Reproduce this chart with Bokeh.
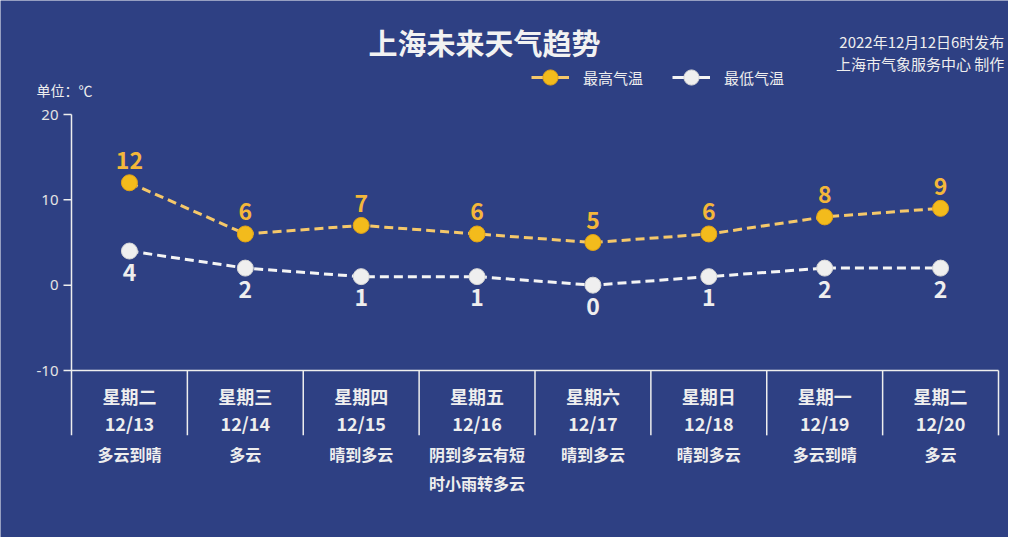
import math
from bokeh.plotting import figure
from bokeh.models import Range1d, Label, Legend, LegendItem, ColumnDataSource
from bokeh.core.properties import value
from bokeh.embed import file_html
from bokeh.resources import INLINE

weekdays = ["星期二", "星期三", "星期四", "星期五", "星期六", "星期日", "星期一", "星期二"]
dates = ["12/13", "12/14", "12/15", "12/16", "12/17", "12/18", "12/19", "12/20"]
weather = ["多云到晴", "多云", "晴到多云", "阴到多云有短\n时小雨转多云",
           "晴到多云", "晴到多云", "多云到晴", "多云"]
high_temp = [12, 6, 7, 6, 5, 6, 8, 9]
low_temp = [4, 2, 1, 1, 0, 1, 2, 2]
y_ticks = [-10, 0, 10, 20]

BG = "#2e4083"
FONT = "Noto Sans CJK SC"
WHITE = "#eeeeee"
HI_LINE, HI_DOT = "#f5c86a", "#f3bb1c"
LO_LINE, LO_DOT = "#f4f4f4", "#efefef"

n = len(dates)
xs = [i + 0.5 for i in range(n)]
w1 = [w.split("\n")[0] for w in weather]
w2 = [w.split("\n")[1] if "\n" in w else "" for w in weather]

src = ColumnDataSource(data=dict(
    x=xs, high=high_temp, low=low_temp,
    high_txt=[str(v) for v in high_temp], low_txt=[str(v) for v in low_temp],
    day=weekdays, date=dates, w1=w1, w2=w2,
))

# frame fills the whole canvas, the axis is drawn by hand so the
# title / legend / notes above it are not clipped
p = figure(width=1008, height=537, output_backend="svg", toolbar_location=None,
           x_range=Range1d(-0.6127, 8.0863), y_range=Range1d(-29.57, 33.36),
           x_axis_location=None, y_axis_location=None, min_border=0,
           background_fill_color=BG, border_fill_color=BG, outline_line_color=None)
p.grid.visible = False

y_min, y_max = min(y_ticks), max(y_ticks)
p.segment(x0=[0], y0=[y_max], x1=[0], y1=[-17.6], line_color=WHITE, line_width=1.5)
p.segment(x0=[0], y0=[y_min], x1=[n], y1=[y_min], line_color=WHITE, line_width=1.5)
sep = list(range(1, n + 1))
p.segment(x0=sep, y0=y_min, x1=sep, y1=-17.6, line_color=WHITE, line_width=1.5)
p.ray(x=0, y=y_ticks, length=8, length_units="screen", angle=math.pi,
      line_color=WHITE, line_width=1.5)
p.text(x=0, y=y_ticks, text=[str(t) for t in y_ticks], x_offset=-13, text_align="right",
       text_baseline="middle", text_font=value("Noto Sans"), text_font_size="15px",
       text_color="#e4e4e4")

p.line('x', 'high', source=src, line_color=HI_LINE, line_width=3, line_dash="9 5")
p.scatter('x', 'high', source=src, size=16, fill_color=HI_DOT, line_color="#e3a316", line_width=1)
p.line('x', 'low', source=src, line_color=LO_LINE, line_width=3, line_dash="9 5")
p.scatter('x', 'low', source=src, size=16, fill_color=LO_DOT, line_color="#d6d6d6", line_width=1)

p.text('x', 'high', text='high_txt', source=src, text_align="center", text_baseline="middle",
       y_offset=-22, text_font=value(FONT), text_font_style="bold", text_font_size="23px",
       text_color="#f4b73a")
p.text('x', 'low', text='low_txt', source=src, text_align="center", text_baseline="middle",
       y_offset=21, text_font=value(FONT), text_font_style="bold", text_font_size="23px",
       text_color=WHITE)

# labels under the axis
for col, off, size in [('day', 25, "18px"), ('date', 52, "18px"), ('w1', 83, "16px"), ('w2', 112, "16px")]:
    p.text('x', y_min, text=col, source=src, text_align="center", text_baseline="middle",
           y_offset=off, text_font=value(FONT), text_font_style="bold", text_font_size=size,
           text_color=WHITE)

p.add_layout(Label(x=3.564, y=28.44, text="上海未来天气趋势", text_align="center", text_baseline="middle",
                   text_font=FONT, text_font_style="bold", text_font_size="29px", text_color="#f2f2f2"))
p.add_layout(Label(x=8.05, y=28.6, text="2022年12月12日6时发布", text_align="right", text_baseline="middle",
                   text_font=FONT, text_font_size="15px", text_color=WHITE))
p.add_layout(Label(x=8.05, y=26.0, text="上海市气象服务中心 制作", text_align="right", text_baseline="middle",
                   text_font=FONT, text_font_size="15px", text_color=WHITE))
p.add_layout(Label(x=-0.302, y=22.93, text="单位：℃", text_align="left", text_baseline="middle",
                   text_font=FONT, text_font_size="14px", text_color=WHITE))

# legend swatches: solid line with a big dot (nan data, legend only)
nan = [float("nan")]
hi_l = p.line(x=nan, y=nan, line_color=HI_LINE, line_width=3)
hi_d = p.scatter(x=nan, y=nan, fill_color=HI_DOT, line_color="#e3a316")
lo_l = p.line(x=nan, y=nan, line_color=LO_LINE, line_width=3)
lo_d = p.scatter(x=nan, y=nan, fill_color=LO_DOT, line_color="#d6d6d6")

legend = Legend(items=[LegendItem(label="最高气温", renderers=[hi_l, hi_d]),
                       LegendItem(label="最低气温", renderers=[lo_l, lo_d])],
                orientation="horizontal", location=(531, 440),
                background_fill_alpha=0, border_line_color=None,
                label_text_color=WHITE, label_text_font=FONT, label_text_font_size="15px",
                glyph_width=38, glyph_height=40, label_standoff=14, spacing=29,
                padding=0, margin=0)
p.add_layout(legend)

open("out.html", "w").write(file_html(p, INLINE))
